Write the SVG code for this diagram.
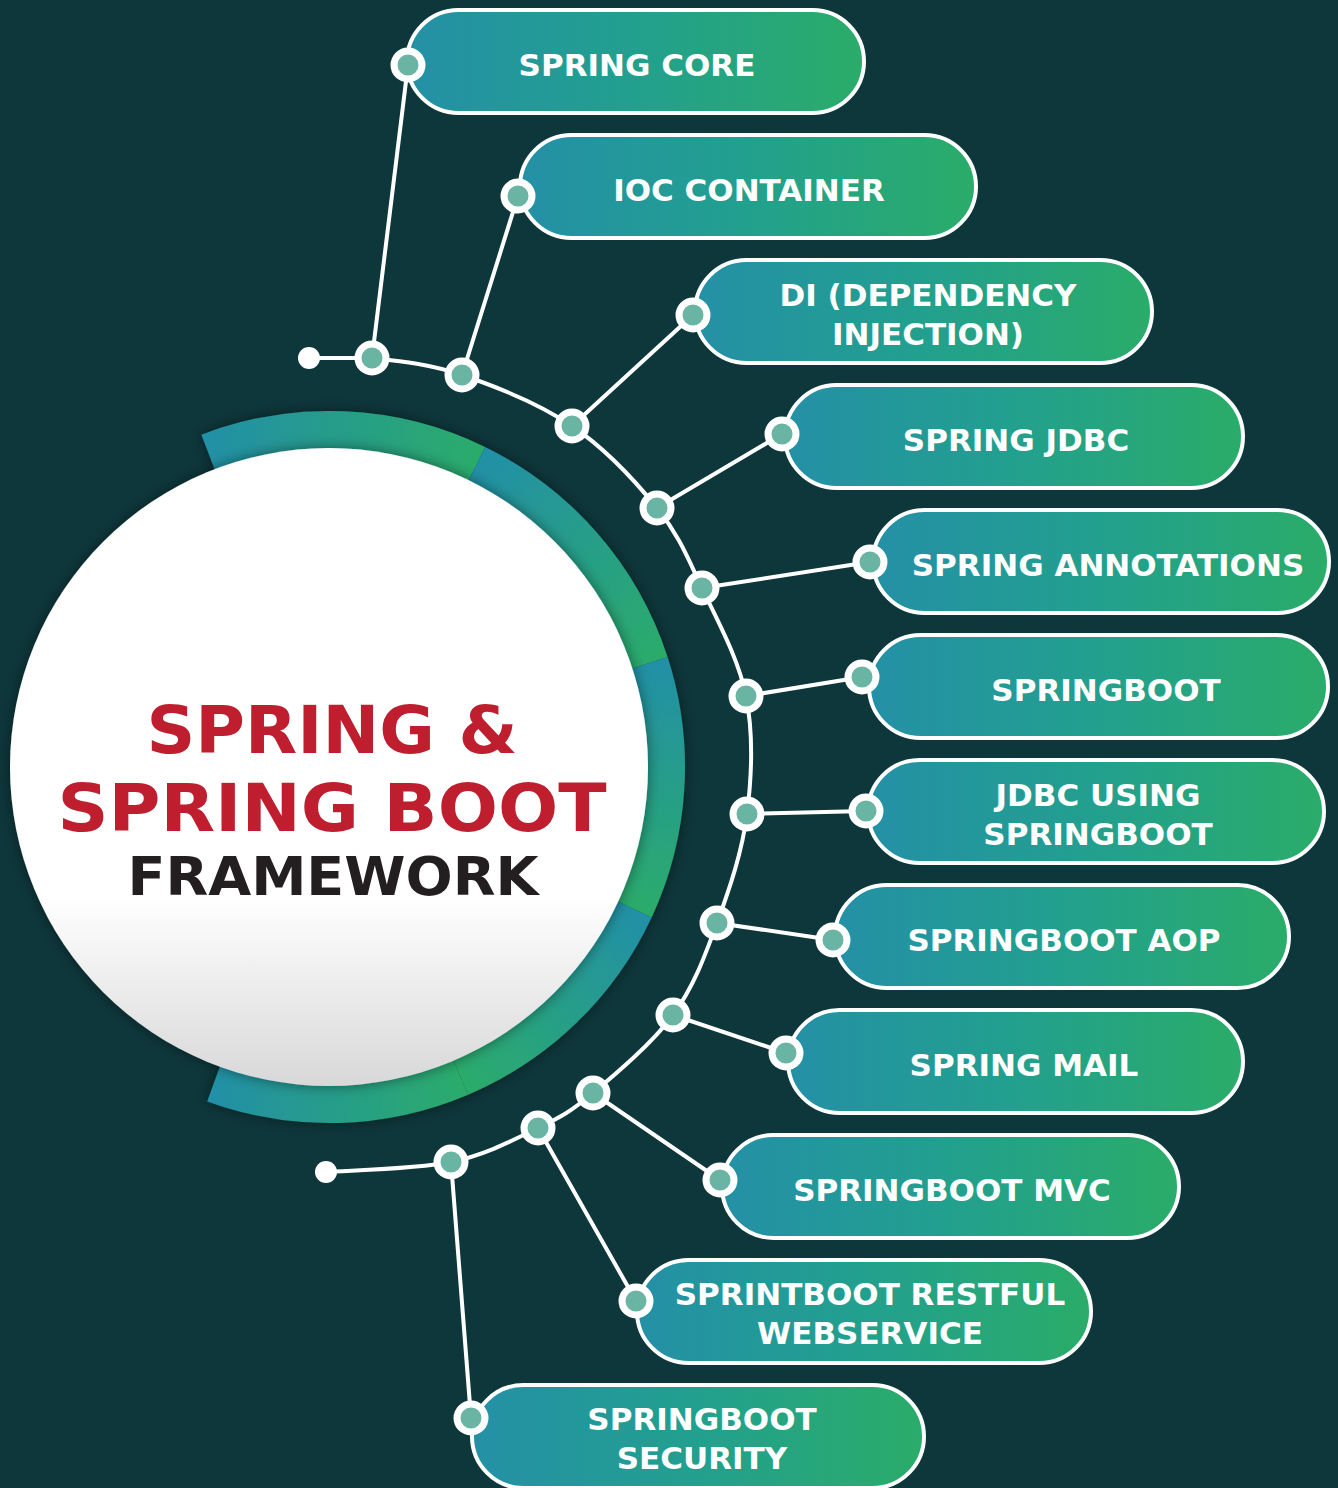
<svg xmlns="http://www.w3.org/2000/svg" width="1338" height="1488" viewBox="0 0 1338 1488">
<style>
.pill{fill:url(#pillGrad);stroke:#ffffff;stroke-width:4}
.lbl{font-family:"DejaVu Sans","Liberation Sans",sans-serif;font-weight:bold;font-size:31px;fill:#ffffff;text-anchor:middle}
.dot{fill:#6ab4a3;stroke:#ffffff;stroke-width:7}
.end{fill:#ffffff}
.wire{fill:none;stroke:#ffffff;stroke-width:4;stroke-linecap:round}
.seg{fill:none;stroke-width:38}
.title{font-family:"DejaVu Sans","Liberation Sans",sans-serif;font-weight:bold;text-anchor:middle}
</style>
<defs>
<linearGradient id="pillGrad" x1="0" y1="0" x2="1" y2="0">
<stop offset="0" stop-color="#2490a6"/>
<stop offset="0.5" stop-color="#22a08e"/>
<stop offset="1" stop-color="#2aac69"/>
</linearGradient>
<linearGradient id="circGrad" x1="0" y1="0" x2="0" y2="1">
<stop offset="0" stop-color="#ffffff"/>
<stop offset="0.7" stop-color="#ffffff"/>
<stop offset="1" stop-color="#d8d8d8"/>
</linearGradient>
<linearGradient id="g1" gradientUnits="userSpaceOnUse" x1="208" y1="452" x2="477" y2="464"><stop offset="0" stop-color="#2390a6"/><stop offset="1" stop-color="#2bab6b"/></linearGradient>
<linearGradient id="g2" gradientUnits="userSpaceOnUse" x1="477" y1="464" x2="650" y2="663"><stop offset="0" stop-color="#2390a6"/><stop offset="1" stop-color="#2bab6b"/></linearGradient>
<linearGradient id="g3" gradientUnits="userSpaceOnUse" x1="650" y1="663" x2="634" y2="909"><stop offset="0" stop-color="#2390a6"/><stop offset="1" stop-color="#2bab6b"/></linearGradient>
<linearGradient id="g4" gradientUnits="userSpaceOnUse" x1="634" y1="909" x2="461" y2="1077"><stop offset="0" stop-color="#2390a6"/><stop offset="1" stop-color="#2bab6b"/></linearGradient>
<linearGradient id="g5" gradientUnits="userSpaceOnUse" x1="461" y1="1077" x2="214" y2="1084"><stop offset="0" stop-color="#2bab6b"/><stop offset="1" stop-color="#2390a6"/></linearGradient>
<filter id="shadow" x="-20%" y="-20%" width="140%" height="140%">
<feDropShadow dx="0" dy="0" stdDeviation="7" flood-color="#000000" flood-opacity="0.45"/>
</filter>
</defs>
<rect x="0" y="0" width="1338" height="1488" fill="#0e373b"/>

<g id="hub">
<g filter="url(#shadow)">
<path class="seg" stroke="url(#g1)" d="M208.2,452.4 A337,337 0 0 1 476.7,464.1"/>
<path class="seg" stroke="url(#g2)" d="M476.7,464.1 A337,337 0 0 1 649.5,662.9"/>
<path class="seg" stroke="url(#g3)" d="M649.5,662.9 A337,337 0 0 1 634.4,909.4"/>
<path class="seg" stroke="url(#g4)" d="M634.4,909.4 A337,337 0 0 1 460.7,1077.2"/>
<path class="seg" stroke="url(#g5)" d="M460.7,1077.2 A337,337 0 0 1 213.7,1083.7"/>
</g>
<circle cx="329" cy="767" r="319" fill="url(#circGrad)" filter="url(#shadow)"/>
<text class="title" x="332" y="753" font-size="66" fill="#be1e2d" textLength="371" lengthAdjust="spacingAndGlyphs">SPRING &amp;</text>
<text class="title" x="332" y="831" font-size="66" fill="#be1e2d" textLength="549" lengthAdjust="spacingAndGlyphs">SPRING BOOT</text>
<text class="title" x="333" y="895" font-size="53" fill="#231f20" textLength="411" lengthAdjust="spacingAndGlyphs">FRAMEWORK</text>
</g>

<g id="connectors">
<path class="wire" d="M309,358 C330,358 350,358 372,358 C397.5,360.8 428.7,363.7 462,375 C495.3,386.3 539.5,403.8 572,426 C604.5,448.2 635.3,481 657,508 C678.7,535 687.2,556.7 702,588 C716.8,619.3 738.5,658.3 746,696 C753.5,733.7 751.8,776.2 747,814 C742.2,851.8 729.3,889.5 717,923 C704.7,956.5 693.7,986.7 673,1015 C652.3,1043.3 615.5,1074.2 593,1093 C570.5,1111.8 561.7,1116.5 538,1128 C514.3,1139.5 486.3,1154.7 451,1162 C415.7,1169.3 346.8,1170.3 326,1172"/>
<line class="wire" x1="372" y1="358" x2="408" y2="65"/>
<line class="wire" x1="462" y1="375" x2="518" y2="196"/>
<line class="wire" x1="572" y1="426" x2="693" y2="315"/>
<line class="wire" x1="657" y1="508" x2="782" y2="434"/>
<line class="wire" x1="702" y1="588" x2="870" y2="562"/>
<line class="wire" x1="746" y1="696" x2="862" y2="677"/>
<line class="wire" x1="747" y1="814" x2="866" y2="811"/>
<line class="wire" x1="717" y1="923" x2="833" y2="940"/>
<line class="wire" x1="673" y1="1015" x2="786" y2="1053"/>
<line class="wire" x1="593" y1="1093" x2="720" y2="1180"/>
<line class="wire" x1="538" y1="1128" x2="636" y2="1301"/>
<line class="wire" x1="451" y1="1162" x2="471" y2="1418"/>
<circle class="end" cx="309" cy="358" r="11"/>
<circle class="end" cx="326" cy="1172" r="11"/>
<circle class="dot" cx="372" cy="358" r="14"/>
<circle class="dot" cx="462" cy="375" r="14"/>
<circle class="dot" cx="572" cy="426" r="14"/>
<circle class="dot" cx="657" cy="508" r="14"/>
<circle class="dot" cx="702" cy="588" r="14"/>
<circle class="dot" cx="746" cy="696" r="14"/>
<circle class="dot" cx="747" cy="814" r="14"/>
<circle class="dot" cx="717" cy="923" r="14"/>
<circle class="dot" cx="673" cy="1015" r="14"/>
<circle class="dot" cx="593" cy="1093" r="14"/>
<circle class="dot" cx="538" cy="1128" r="14"/>
<circle class="dot" cx="451" cy="1162" r="14"/>
</g>

<g id="node-spring-core">
<rect class="pill" x="407" y="10" width="457" height="103" rx="51.5"/>
<text class="lbl" x="637" y="76">SPRING CORE</text>
<circle class="dot" cx="408" cy="65" r="14"/>
</g>
<g id="node-ioc-container">
<rect class="pill" x="520" y="135" width="456" height="103" rx="51.5"/>
<text class="lbl" x="749" y="201">IOC CONTAINER</text>
<circle class="dot" cx="518" cy="196" r="14"/>
</g>
<g id="node-di">
<rect class="pill" x="695" y="260" width="457" height="103" rx="51.5"/>
<text class="lbl" x="928" y="306">DI (DEPENDENCY</text>
<text class="lbl" x="928" y="345">INJECTION)</text>
<circle class="dot" cx="693" cy="315" r="14"/>
</g>
<g id="node-spring-jdbc">
<rect class="pill" x="785" y="385" width="458" height="103" rx="51.5"/>
<text class="lbl" x="1016" y="451">SPRING JDBC</text>
<circle class="dot" cx="782" cy="434" r="14"/>
</g>
<g id="node-spring-annotations">
<rect class="pill" x="873" y="510" width="456" height="103" rx="51.5"/>
<text class="lbl" x="1108" y="576">SPRING ANNOTATIONS</text>
<circle class="dot" cx="870" cy="562" r="14"/>
</g>
<g id="node-springboot">
<rect class="pill" x="869" y="635" width="459" height="103" rx="51.5"/>
<text class="lbl" x="1106" y="701">SPRINGBOOT</text>
<circle class="dot" cx="862" cy="677" r="14"/>
</g>
<g id="node-jdbc-using-springboot">
<rect class="pill" x="868" y="760" width="456" height="103" rx="51.5"/>
<text class="lbl" x="1098" y="806">JDBC USING</text>
<text class="lbl" x="1098" y="845">SPRINGBOOT</text>
<circle class="dot" cx="866" cy="811" r="14"/>
</g>
<g id="node-springboot-aop">
<rect class="pill" x="835" y="885" width="454" height="103" rx="51.5"/>
<text class="lbl" x="1064" y="951">SPRINGBOOT AOP</text>
<circle class="dot" cx="833" cy="940" r="14"/>
</g>
<g id="node-spring-mail">
<rect class="pill" x="788" y="1010" width="455" height="103" rx="51.5"/>
<text class="lbl" x="1024" y="1076">SPRING MAIL</text>
<circle class="dot" cx="786" cy="1053" r="14"/>
</g>
<g id="node-springboot-mvc">
<rect class="pill" x="722" y="1135" width="457" height="103" rx="51.5"/>
<text class="lbl" x="952" y="1201">SPRINGBOOT MVC</text>
<circle class="dot" cx="720" cy="1180" r="14"/>
</g>
<g id="node-restful">
<rect class="pill" x="637" y="1260" width="454" height="103" rx="51.5"/>
<text class="lbl" x="870" y="1305">SPRINTBOOT RESTFUL</text>
<text class="lbl" x="870" y="1344">WEBSERVICE</text>
<circle class="dot" cx="636" cy="1301" r="14"/>
</g>
<g id="node-security">
<rect class="pill" x="472" y="1385" width="452" height="103" rx="51.5"/>
<text class="lbl" x="702" y="1430">SPRINGBOOT</text>
<text class="lbl" x="702" y="1469">SECURITY</text>
<circle class="dot" cx="471" cy="1418" r="14"/>
</g>
</svg>
